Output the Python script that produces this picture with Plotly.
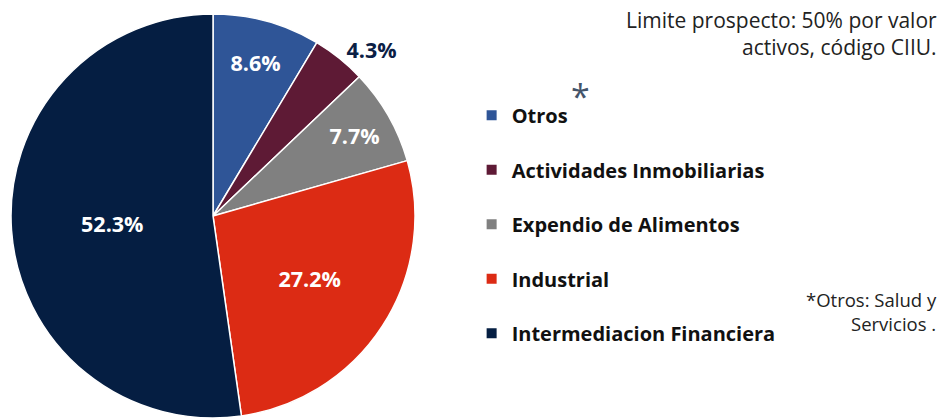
import plotly.graph_objects as go

# sector shares (%)
categorias = ["Otros", "Actividades Inmobiliarias", "Expendio de Alimentos",
              "Industrial", "Intermediacion Financiera"]
valores = [8.6, 4.3, 7.7, 27.2, 52.3]
colores = ["#2F5597", "#5E1A35", "#808080", "#DC2B14", "#051E42"]
posicion_texto = ["inside", "outside", "inside", "inside", "inside"]
color_texto = ["white", "#0B2045", "white", "white", "white"]

FONT = "Open Sans"

fig = go.Figure()

fig.add_trace(go.Pie(
    labels=categorias,
    values=valores,
    sort=False,
    direction="clockwise",
    rotation=0,
    marker=dict(colors=colores, line=dict(color="white", width=1.5)),
    texttemplate="%{value:.1f}%",
    textposition=posicion_texto,
    insidetextorientation="horizontal",
    textfont=dict(family=FONT, size=21.5, color=color_texto, weight="bold"),
    domain=dict(x=[0, 0.4494], y=[0, 0.9665]),
    showlegend=False,
    hoverinfo="label+value",
))

# legend entries as dummy traces so the gap between items can be set
for cat, col in zip(categorias, colores):
    fig.add_trace(go.Scatter(
        x=[None], y=[None], mode="markers", name=cat, legendgroup=cat,
        marker=dict(symbol="square", size=10, color=col),
    ))

fig.update_layout(
    width=948, height=418,
    margin=dict(l=0, r=0, t=0, b=0, autoexpand=False),
    paper_bgcolor="white", plot_bgcolor="white",
    xaxis=dict(visible=False), yaxis=dict(visible=False),
    legend=dict(
        x=0.4975, y=0.771, xanchor="left", yanchor="top",
        font=dict(family=FONT, size=20, color="#111111", weight="bold"),
        tracegroupgap=25.5, itemwidth=30,
    ),
    annotations=[
        dict(text="Limite prospecto: 50% por valor<br>activos, código CIIU.",
             x=0.99, y=0.99, xref="paper", yref="paper", xanchor="right", yanchor="top",
             align="right", showarrow=False,
             font=dict(family=FONT, size=21, color="#222222")),
        dict(text="*", x=0.612, y=0.831, xref="paper", yref="paper",
             showarrow=False, font=dict(family=FONT, size=34, color="#44546A")),
        dict(text="*Otros: Salud y<br>Servicios .",
             x=0.99, y=0.255, xref="paper", yref="paper", xanchor="right", yanchor="middle",
             align="right", showarrow=False,
             font=dict(family=FONT, size=18.5, color="#222222")),
    ],
)

fig.write_html("out.html", config={"displayModeBar": False},
               post_script="document.body.style.margin='0';")
